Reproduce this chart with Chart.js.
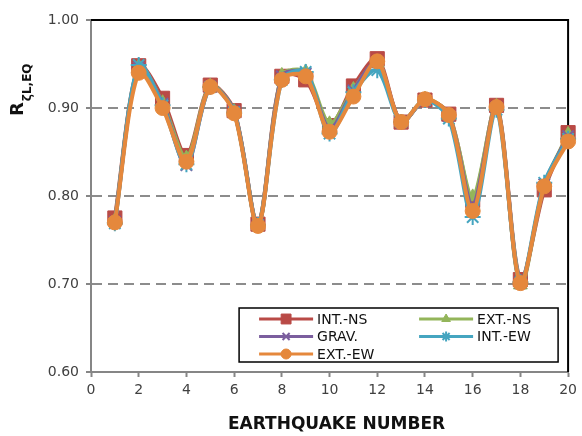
<!DOCTYPE html>
<html>
<head>
<meta charset="utf-8">
<script src="https://cdn.jsdelivr.net/npm/chart.js@4"></script>
<style>
  html, body { margin: 0; padding: 0; background: #fff; }
  #wrap { width: 582px; height: 436px; }
</style>
</head>
<body>
<div id="wrap"><canvas id="rChart" width="582" height="436"></canvas></div>
<script>
// Earthquake record numbers and ratio values per frame / direction
const quakeNo = [1, 2, 3, 4, 5, 6, 7, 8, 9, 10, 11, 12, 13, 14, 15, 16, 17, 18, 19, 20];
const intNS  = [0.775, 0.948, 0.911, 0.846, 0.926, 0.897, 0.768, 0.936, 0.932, 0.880, 0.925, 0.956, 0.884, 0.909, 0.893, 0.795, 0.903, 0.705, 0.807, 0.872];
const extNS  = [0.772, 0.947, 0.906, 0.843, 0.925, 0.896, 0.767, 0.937, 0.941, 0.882, 0.921, 0.951, 0.884, 0.910, 0.892, 0.799, 0.902, 0.699, 0.812, 0.870];
const grav   = [0.771, 0.946, 0.905, 0.835, 0.924, 0.896, 0.767, 0.936, 0.939, 0.876, 0.920, 0.952, 0.884, 0.909, 0.891, 0.790, 0.901, 0.701, 0.813, 0.868];
const intEW  = [0.769, 0.949, 0.903, 0.836, 0.924, 0.895, 0.767, 0.932, 0.941, 0.871, 0.918, 0.943, 0.884, 0.909, 0.888, 0.776, 0.898, 0.702, 0.815, 0.865];
const extEW  = [0.770, 0.940, 0.900, 0.839, 0.924, 0.894, 0.766, 0.932, 0.936, 0.873, 0.913, 0.953, 0.884, 0.910, 0.892, 0.783, 0.901, 0.701, 0.811, 0.862];
const seriesNames = ['INT.-NS', 'EXT.-NS', 'GRAV.', 'INT.-EW', 'EXT.-EW'];

const FONT = 'DejaVu Sans';
const TICK_COLOR = '#404040';
const AXIS_GRAY = '#868686';

function pts(vals) {
  return vals.map((v, i) => ({ x: quakeNo[i], y: v }));
}

// later series are painted on top of earlier ones
function series(idx, vals, color, style, radius) {
  return {
    label: seriesNames[idx],
    data: pts(vals),
    order: 10 - idx,
    borderColor: color,
    backgroundColor: color,
    borderWidth: 4,
    pointStyle: style,
    pointRadius: radius,
    pointBorderColor: color,
    pointBackgroundColor: color,
    pointBorderWidth: style === 'crossRot' || style === 'star' ? 2 : 1,
    tension: 0.3,
    clip: false
  };
}

// plot frame (top/right), axis titles and boxed legend inside the plot
const decor = {
  id: 'decor',
  beforeDatasetsDraw(chart) {
    const { ctx, chartArea: a } = chart;
    ctx.save();
    ctx.strokeStyle = '#000';
    ctx.lineWidth = 2;
    ctx.beginPath();
    ctx.moveTo(a.left, a.top);
    ctx.lineTo(a.right, a.top);
    ctx.lineTo(a.right, a.bottom);
    ctx.stroke();
    ctx.restore();
  },
  afterDraw(chart) {
    const { ctx, chartArea: a } = chart;
    ctx.save();

    // x title
    ctx.fillStyle = '#111';
    ctx.font = 'bold 17px ' + FONT;
    ctx.textAlign = 'center';
    ctx.textBaseline = 'alphabetic';
    ctx.fillText('EARTHQUAKE NUMBER', (a.left + a.right) / 2 + 7, 429);

    // y title, rotated, with subscript
    ctx.save();
    ctx.translate(23, 116);
    ctx.rotate(-Math.PI / 2);
    ctx.textAlign = 'left';
    ctx.font = 'bold 18px ' + FONT;
    ctx.fillText('R', 0, 0);
    const rw = ctx.measureText('R').width;
    ctx.font = 'bold 12px ' + FONT;
    ctx.fillText('ζL,EQ', rw + 1, 8);
    ctx.restore();

    // legend box
    const bx = a.right - 329, by = a.bottom - 64, bw = 319, bh = 54;
    ctx.fillStyle = '#fff';
    ctx.fillRect(bx, by, bw, bh);
    ctx.strokeStyle = '#000';
    ctx.lineWidth = 1.5;
    ctx.strokeRect(bx, by, bw, bh);

    ctx.font = '14px ' + FONT;
    ctx.textAlign = 'left';
    ctx.textBaseline = 'middle';
    const items = chart.data.datasets.slice().sort((p, q) => q.order - p.order);
    items.forEach((ds, i) => {
      const col = i % 2, row = Math.floor(i / 2);
      const x0 = bx + 20 + col * 160;
      const y0 = by + 11 + row * 17.5;
      ctx.strokeStyle = ds.borderColor;
      ctx.lineWidth = 3;
      ctx.beginPath();
      ctx.moveTo(x0, y0);
      ctx.lineTo(x0 + 54, y0);
      ctx.stroke();
      ctx.fillStyle = ds.backgroundColor;
      ctx.lineWidth = ds.pointBorderWidth;
      Chart.helpers.drawPoint(ctx, {
        pointStyle: ds.pointStyle,
        radius: ds.pointStyle === 'rect' ? 7 : 5,
        rotation: 0,
        borderWidth: ds.pointBorderWidth
      }, x0 + 27, y0);
      ctx.fillStyle = '#111';
      ctx.fillText(ds.label, x0 + 58, y0 + 1);
    });
    ctx.restore();
  }
};

new Chart(document.getElementById('rChart'), {
  type: 'line',
  data: {
    datasets: [
      series(0, intNS, '#b94a46', 'rect', 10),
      series(1, extNS, '#93b55a', 'triangle', 8),
      series(2, grav,  '#7b5e9e', 'crossRot', 8),
      series(3, intEW, '#45a5c0', 'star', 8),
      series(4, extEW, '#e5883c', 'circle', 7.5)
    ]
  },
  options: {
    responsive: false,
    animation: false,
    layout: { padding: { top: 20, right: 10, left: 0, bottom: 0 } },
    plugins: { legend: { display: false }, tooltip: { enabled: false } },
    scales: {
      x: {
        type: 'linear',
        min: 0,
        max: 20,
        afterFit: s => { s.height = 64; },
        ticks: { stepSize: 2, color: TICK_COLOR, font: { family: FONT, size: 14 }, padding: 5, maxRotation: 0 },
        grid: { drawOnChartArea: false, drawTicks: true, tickLength: 5, tickColor: AXIS_GRAY, tickWidth: 2 },
        border: { color: AXIS_GRAY, width: 2 }
      },
      y: {
        min: 0.6,
        max: 1.0,
        afterFit: s => { s.width = 91; },
        ticks: {
          stepSize: 0.1,
          color: TICK_COLOR,
          font: { family: FONT, size: 14 },
          padding: 7,
          callback: v => v.toFixed(2)
        },
        grid: {
          color: c => (c.tick && (Math.abs(c.tick.value - 0.6) < 1e-6 || Math.abs(c.tick.value - 1.0) < 1e-6)) ? 'rgba(0,0,0,0)' : '#8c8c8c',
          lineWidth: 2,
          tickLength: 5,
          tickColor: AXIS_GRAY,
          tickWidth: 2
        },
        border: { color: AXIS_GRAY, width: 2, dash: [10, 6] }
      }
    }
  },
  plugins: [decor]
});
</script>
</body>
</html>
